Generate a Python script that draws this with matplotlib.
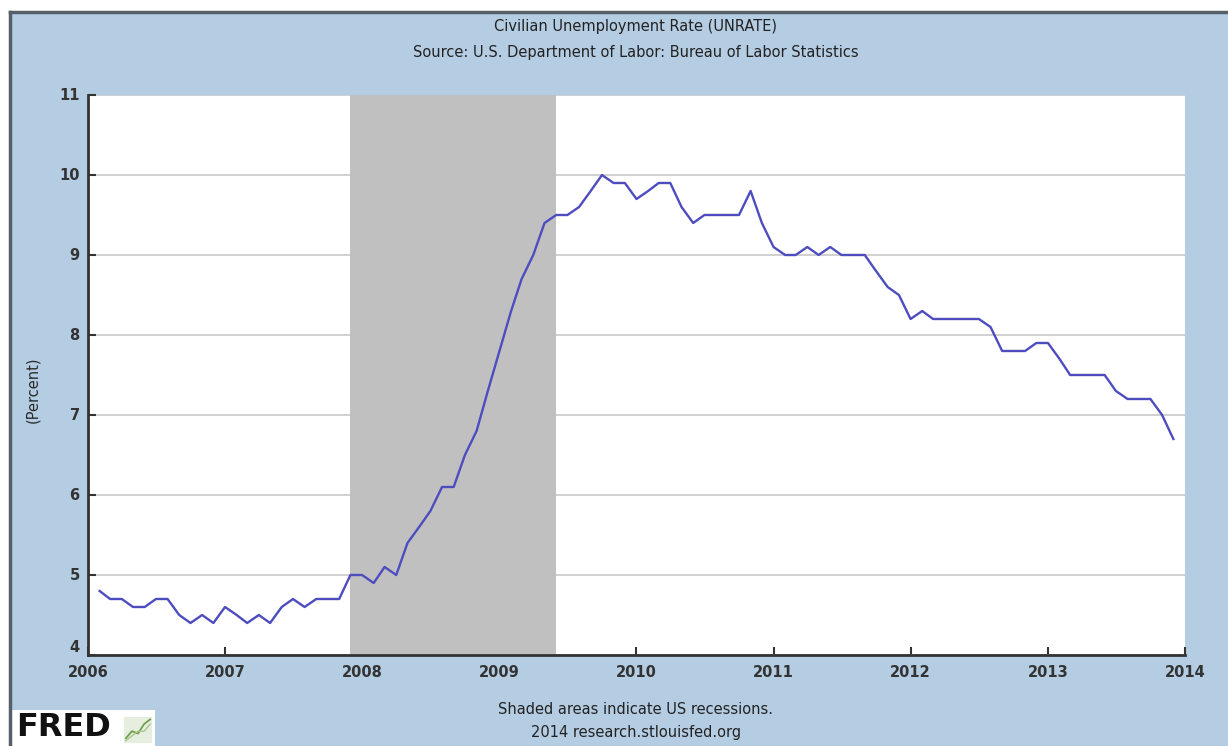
import matplotlib
matplotlib.use("Agg")
import matplotlib.pyplot as plt
import matplotlib.dates as mdates
from matplotlib.patches import Rectangle
from matplotlib.lines import Line2D
import numpy as np
import pandas as pd

# monthly civilian unemployment rate, Feb 2006 - Dec 2013
rate_2006 = [4.8, 4.7, 4.7, 4.6, 4.6, 4.7, 4.7, 4.5, 4.4, 4.5, 4.4]
rate_2007 = [4.6, 4.5, 4.4, 4.5, 4.4, 4.6, 4.7, 4.6, 4.7, 4.7, 4.7, 5.0]
rate_2008 = [5.0, 4.9, 5.1, 5.0, 5.4, 5.6, 5.8, 6.1, 6.1, 6.5, 6.8, 7.3]
rate_2009 = [7.8, 8.3, 8.7, 9.0, 9.4, 9.5, 9.5, 9.6, 9.8, 10.0, 9.9, 9.9]
rate_2010 = [9.7, 9.8, 9.9, 9.9, 9.6, 9.4, 9.5, 9.5, 9.5, 9.5, 9.8, 9.4]
rate_2011 = [9.1, 9.0, 9.0, 9.1, 9.0, 9.1, 9.0, 9.0, 9.0, 8.8, 8.6, 8.5]
rate_2012 = [8.2, 8.3, 8.2, 8.2, 8.2, 8.2, 8.2, 8.1, 7.8, 7.8, 7.8, 7.9]
rate_2013 = [7.9, 7.7, 7.5, 7.5, 7.5, 7.5, 7.3, 7.2, 7.2, 7.2, 7.0, 6.7]

unrate = rate_2006 + rate_2007 + rate_2008 + rate_2009 + rate_2010 + rate_2011 + rate_2012 + rate_2013
dates = pd.date_range("2006-02-01", periods=len(unrate), freq="MS")

recession_start = "2007-12-01"
recession_end = "2009-06-01"

year_ticks = list(range(2006, 2015))
y_ticks = [4, 5, 6, 7, 8, 9, 10, 11]

bg = "#b5cde3"
W, H = 1228, 746
fig = plt.figure(figsize=(W / 100, H / 100), dpi=100, facecolor=bg)

# white margin + dark frame along top and left edges
fig.patches.append(Rectangle((0, 1 - 11 / H), 1, 11 / H, transform=fig.transFigure,
                             facecolor="white", edgecolor="none", zorder=0))
fig.patches.append(Rectangle((0, 0), 9 / W, 1, transform=fig.transFigure,
                             facecolor="white", edgecolor="none", zorder=0))
fig.lines.append(Line2D([10 / W, 1], [1 - 12 / H, 1 - 12 / H], transform=fig.transFigure,
                        color="#55606a", linewidth=2.5))
fig.lines.append(Line2D([10 / W, 10 / W], [0, 1 - 12 / H], transform=fig.transFigure,
                        color="#55606a", linewidth=2.5))

ax = fig.add_axes([88 / W, 1 - 655 / H, (1185 - 88) / W, (655 - 95) / H])
ax.set_facecolor("white")

ax.axvspan(pd.Timestamp(recession_start), pd.Timestamp(recession_end),
           color="#c0c0c0", zorder=1, linewidth=0)
ax.plot(dates, unrate, color="#4d4dc0", linewidth=1.7, zorder=3)

ax.set_xlim(pd.Timestamp("2006-01-01"), pd.Timestamp("2014-01-01"))
ax.set_ylim(4, 11)
ax.set_xticks([pd.Timestamp(f"{y}-01-01") for y in year_ticks])
ax.xaxis.set_major_formatter(mdates.DateFormatter("%Y"))
ax.set_yticks(y_ticks)
ax.grid(axis="y", color="#c8c8c8", linewidth=1.2, zorder=0)
ax.set_axisbelow(True)

for s in ["top", "right"]:
    ax.spines[s].set_visible(False)
for s in ["left", "bottom"]:
    ax.spines[s].set_color("#333333")
    ax.spines[s].set_linewidth(2)

ax.tick_params(axis="both", direction="in", length=6, width=1.5, color="#333333",
               labelsize=10.5, labelcolor="#333333")
ax.tick_params(axis="y", pad=6)
ax.tick_params(axis="x", pad=7)
for lab in ax.get_xticklabels() + ax.get_yticklabels():
    lab.set_fontweight("bold")
for lab in ax.get_yticklabels():
    lab.set_va("bottom" if lab.get_text() == "4" else "center")

fig.text(33 / W, 1 - 390 / H, "(Percent)", rotation=90, ha="center", va="center",
         fontsize=10.5, color="#2a2a2a")

fig.text(636 / W, 1 - 27 / H, "Civilian Unemployment Rate (UNRATE)", ha="center",
         va="center", fontsize=10.5, color="#222222")
fig.text(636 / W, 1 - 52 / H, "Source: U.S. Department of Labor: Bureau of Labor Statistics",
         ha="center", va="center", fontsize=10.5, color="#222222")

fig.text(636 / W, 1 - 710 / H, "Shaded areas indicate US recessions.", ha="center",
         va="center", fontsize=10.5, color="#222222")
fig.text(636 / W, 1 - 733 / H, "2014 research.stlouisfed.org", ha="center",
         va="center", fontsize=10.5, color="#222222")

# FRED logo box
fig.patches.append(Rectangle((12 / W, 0), (155 - 12) / W, 36 / H, transform=fig.transFigure,
                             facecolor="white", edgecolor="none", zorder=1))
fig.text(16 / W, 1 - 728 / H, "FRED", ha="left", va="center", fontsize=23,
         fontweight="bold", color="#111111", family="DejaVu Sans", zorder=2)
logo = fig.add_axes([124 / W, 1 - 743 / H, 28 / W, 26 / H], zorder=3)
logo.set_facecolor("#e6eee0")
logo.plot([0, 1, 2, 3, 4], [0.2, 0.5, 0.4, 0.8, 1.0], color="#6fa04a", linewidth=1.3)
logo.plot([0, 1, 2, 3, 4], [0.1, 0.3, 0.5, 0.5, 0.8], color="#a8c890", linewidth=1.0)
logo.set_xlim(-0.3, 4.3)
logo.set_ylim(0, 1.1)
logo.set_xticks([])
logo.set_yticks([])
for s in logo.spines.values():
    s.set_visible(False)

fig.savefig("out.png", dpi=100, facecolor=bg)
